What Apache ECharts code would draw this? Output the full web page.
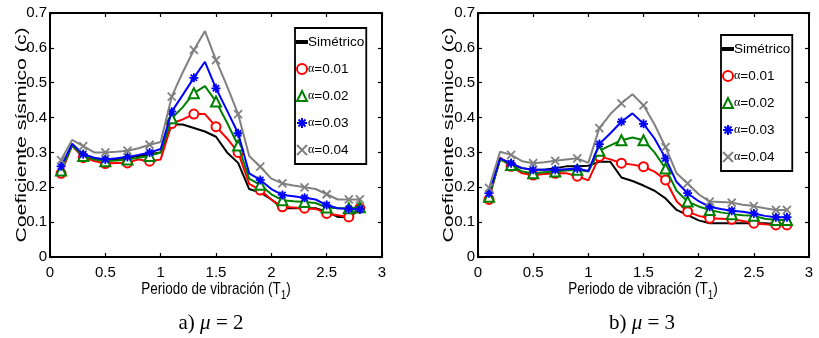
<!DOCTYPE html>
<html><head><meta charset="utf-8">
<script src="https://cdn.jsdelivr.net/npm/echarts@6/dist/echarts.min.js"></script>
<style>html,body{margin:0;padding:0;background:#fff}#c{width:819px;height:338px}</style>
</head><body><div id="c"></div>
<script>
// ---------- data ----------
const periods = [0.1,0.2,0.3,0.4,0.5,0.6,0.7,0.8,0.9,1.0,1.1,1.2,1.3,1.4,1.5,1.6,1.7,1.8,1.9,2.0,2.1,2.2,2.3,2.4,2.5,2.6,2.7,2.8];
const markerPeriods = [0.1,0.3,0.5,0.7,0.9,1.1,1.3,1.5,1.7,1.9,2.1,2.3,2.5,2.7,2.8];
const seriesNames = ['Simétrico','α=0.01','α=0.02','α=0.03','α=0.04'];
const xTickLabels = ['0','0.5','1','1.5','2','2.5','3'];
const yTickLabels = ['0','0.1','0.2','0.3','0.4','0.5','0.6','0.7'];

// a) mu = 2
const mu2Simetrico = [0.25,0.32,0.29,0.28,0.28,0.28,0.285,0.29,0.295,0.30,0.38,0.38,0.37,0.36,0.345,0.30,0.27,0.195,0.185,0.165,0.14,0.14,0.14,0.14,0.13,0.115,0.115,0.135];
const mu2A001 = [0.24,0.32,0.285,0.275,0.268,0.27,0.27,0.28,0.275,0.28,0.383,0.395,0.41,0.41,0.374,0.34,0.30,0.21,0.192,0.165,0.144,0.142,0.14,0.138,0.125,0.12,0.115,0.14];
const mu2A002 = [0.248,0.32,0.29,0.28,0.275,0.277,0.28,0.285,0.29,0.30,0.398,0.43,0.47,0.49,0.446,0.385,0.32,0.225,0.207,0.18,0.163,0.16,0.158,0.155,0.142,0.14,0.14,0.143];
const mu2A003 = [0.26,0.325,0.295,0.285,0.28,0.283,0.287,0.293,0.30,0.31,0.417,0.465,0.514,0.56,0.484,0.42,0.355,0.24,0.221,0.195,0.178,0.174,0.17,0.165,0.149,0.14,0.138,0.137];
const mu2A004 = [0.278,0.336,0.318,0.30,0.30,0.302,0.305,0.312,0.322,0.33,0.46,0.53,0.594,0.648,0.565,0.49,0.41,0.29,0.259,0.225,0.211,0.205,0.2,0.195,0.18,0.165,0.165,0.165];

// b) mu = 3
const mu3Simetrico = [0.175,0.28,0.265,0.255,0.25,0.25,0.255,0.26,0.26,0.262,0.273,0.273,0.228,0.218,0.205,0.19,0.168,0.135,0.12,0.105,0.097,0.097,0.097,0.097,0.097,0.097,0.095,0.095];
const mu3A001 = [0.165,0.285,0.26,0.24,0.235,0.238,0.24,0.24,0.232,0.22,0.288,0.28,0.269,0.265,0.259,0.245,0.221,0.16,0.13,0.118,0.111,0.11,0.108,0.103,0.097,0.094,0.092,0.092];
const mu3A002 = [0.173,0.28,0.264,0.245,0.24,0.243,0.245,0.248,0.25,0.245,0.305,0.32,0.335,0.343,0.335,0.3,0.254,0.19,0.159,0.145,0.135,0.128,0.123,0.12,0.118,0.11,0.106,0.106];
const mu3A003 = [0.183,0.283,0.269,0.255,0.25,0.25,0.25,0.252,0.254,0.247,0.324,0.355,0.388,0.412,0.382,0.34,0.283,0.215,0.183,0.16,0.144,0.138,0.133,0.13,0.125,0.118,0.114,0.114];
const mu3A004 = [0.198,0.302,0.293,0.275,0.269,0.272,0.276,0.28,0.283,0.27,0.37,0.41,0.441,0.467,0.435,0.38,0.315,0.24,0.211,0.18,0.159,0.158,0.156,0.15,0.146,0.14,0.135,0.135];

// ---------- styles ----------
const SANS = "'Liberation Sans',Arial,sans-serif";
const SERIF = "'Liberation Serif','Times New Roman',serif";
const ASTER = 'path://M5,0L5,10M0,5L10,5M1.5,1.5L8.5,8.5M8.5,1.5L1.5,8.5';
const CROSS = 'path://M0,0L10,10M10,0L0,10';
const LINEICON = 'path://M0,0L10,0L10,2.2L0,2.2Z';
const styles = [
  {color:'#000000', symbol:'none', size:0},
  {color:'#ff0000', symbol:'emptyCircle', size:9},
  {color:'#008000', symbol:'emptyTriangle', size:10},
  {color:'#0000ff', symbol:ASTER, size:9},
  {color:'#808080', symbol:CROSS, size:8}
];
const legendIcons = [LINEICON,'emptyCircle','emptyTriangle',ASTER,CROSS];

function mkSeries(idx, vals, axis) {
  const s = styles[idx];
  return {
    name: seriesNames[idx], type:'line', xAxisIndex:axis, yAxisIndex:axis,
    data: periods.map((t,i)=>({value:[t, vals[i]], symbol: (s.symbol!=='none' && markerPeriods.includes(t)) ? s.symbol : 'none'})),
    symbol: s.symbol, symbolSize: s.size, showAllSymbol:true,
    lineStyle:{color:s.color, width:2},
    itemStyle:{color:s.color, borderColor:s.color, borderWidth:1.8},
    emphasis:{disabled:true}, silent:true, z: 2+idx
  };
}

function mkX(grid, pos) {
  return {gridIndex:grid, type:'value', min:0, max:3, interval:0.5, position:pos,
    axisLine:{show:true, onZero:false, lineStyle:{color:'#000', width:2}},
    axisTick:{show:true, inside:true, length:4, lineStyle:{color:'#000', width:1.2}},
    axisLabel:{show:pos==='bottom', color:'#000', fontFamily:SANS, fontSize:15, margin:8,
      formatter:(v)=>xTickLabels[Math.round(v*2)]},
    splitLine:{show:false}};
}
function mkY(grid, pos) {
  return {gridIndex:grid, type:'value', min:0, max:0.7, interval:0.1, position:pos,
    axisLine:{show:true, onZero:false, lineStyle:{color:'#000', width:2}},
    axisTick:{show:true, inside:true, length:4, lineStyle:{color:'#000', width:1.2}},
    axisLabel:{show:pos==='left', color:'#000', fontFamily:SANS, fontSize:15, margin:3,
      formatter:(v)=>yTickLabels[Math.round(v*10)]},
    splitLine:{show:false}};
}
function mkLegend(left, top) {
  return {orient:'vertical', left:left, top:top, itemWidth:10, itemHeight:10, itemGap:13,
    padding:[7,2,7,1], borderColor:'#000', borderWidth:1.8, backgroundColor:'#fff',
    selectedMode:false,
    data: seriesNames.map((n,i)=>({name:n, icon:legendIcons[i]})),
    formatter:(n)=> n.charAt(0)==='α' ? '{g|α}{t|'+n.slice(1)+'}' : '{u|'+n+'}',
    textStyle:{color:'#000', fontFamily:SANS, fontSize:13.5,
      rich:{t:{fontFamily:SANS, fontSize:13.5, color:'#000'},
            u:{fontFamily:SANS, fontSize:13.5, color:'#000', padding:[0,0,0,-4]},
            g:{fontFamily:SERIF, fontSize:12, color:'#000', padding:[0,0,0,-4]}}}};
}

function yTitle(x) {
  return {type:'text', x:x, y:135, rotation:Math.PI/2, scaleX:1.52, silent:true,
    style:{text:'Coeficiente sísmico (c)', fontFamily:SANS, fontSize:14, fill:'#000', align:'center', verticalAlign:'middle'}};
}
function xTitle(x) {
  return {type:'text', x:x, y:290, scaleY:1.2, silent:true,
    style:{text:'{n|Periodo de vibración (T}{s|1}{n|)}', align:'center', verticalAlign:'middle',
      rich:{n:{fontFamily:SANS, fontSize:13.5, color:'#000'}, s:{fontFamily:SANS, fontSize:10, color:'#000', padding:[9,0,0,0]}}}};
}
function caption(x, label, num) {
  return {type:'text', x:x, y:323, silent:true,
    style:{text:'{n|'+label+' }{i|μ}{n| = '+num+'}', align:'center', verticalAlign:'middle',
      rich:{n:{fontFamily:SERIF, fontSize:21, color:'#000'}, i:{fontFamily:SERIF, fontStyle:'italic', fontSize:21, color:'#000'}}}};
}

const chart = echarts.init(document.getElementById('c'), null, {renderer:'canvas'});
chart.setOption({
  animation:false,
  backgroundColor:'#fff',
  grid:[{left:50, top:13, width:332, height:244},{left:478, top:13, width:331, height:244}],
  xAxis:[mkX(0,'bottom'), mkX(0,'top'), mkX(1,'bottom'), mkX(1,'top')],
  yAxis:[mkY(0,'left'), mkY(0,'right'), mkY(1,'left'), mkY(1,'right')],
  legend:[mkLegend(295,28), mkLegend(721,35)],
  series:[
    mkSeries(0, mu2Simetrico, 0), mkSeries(1, mu2A001, 0), mkSeries(2, mu2A002, 0), mkSeries(3, mu2A003, 0), mkSeries(4, mu2A004, 0),
    mkSeries(0, mu3Simetrico, 2), mkSeries(1, mu3A001, 2), mkSeries(2, mu3A002, 2), mkSeries(3, mu3A003, 2), mkSeries(4, mu3A004, 2)
  ],
  graphic:[yTitle(22), yTitle(449), xTitle(216), xTitle(643), caption(211,'a)','2'), caption(642,'b)','3')]
});
</script></body></html>
